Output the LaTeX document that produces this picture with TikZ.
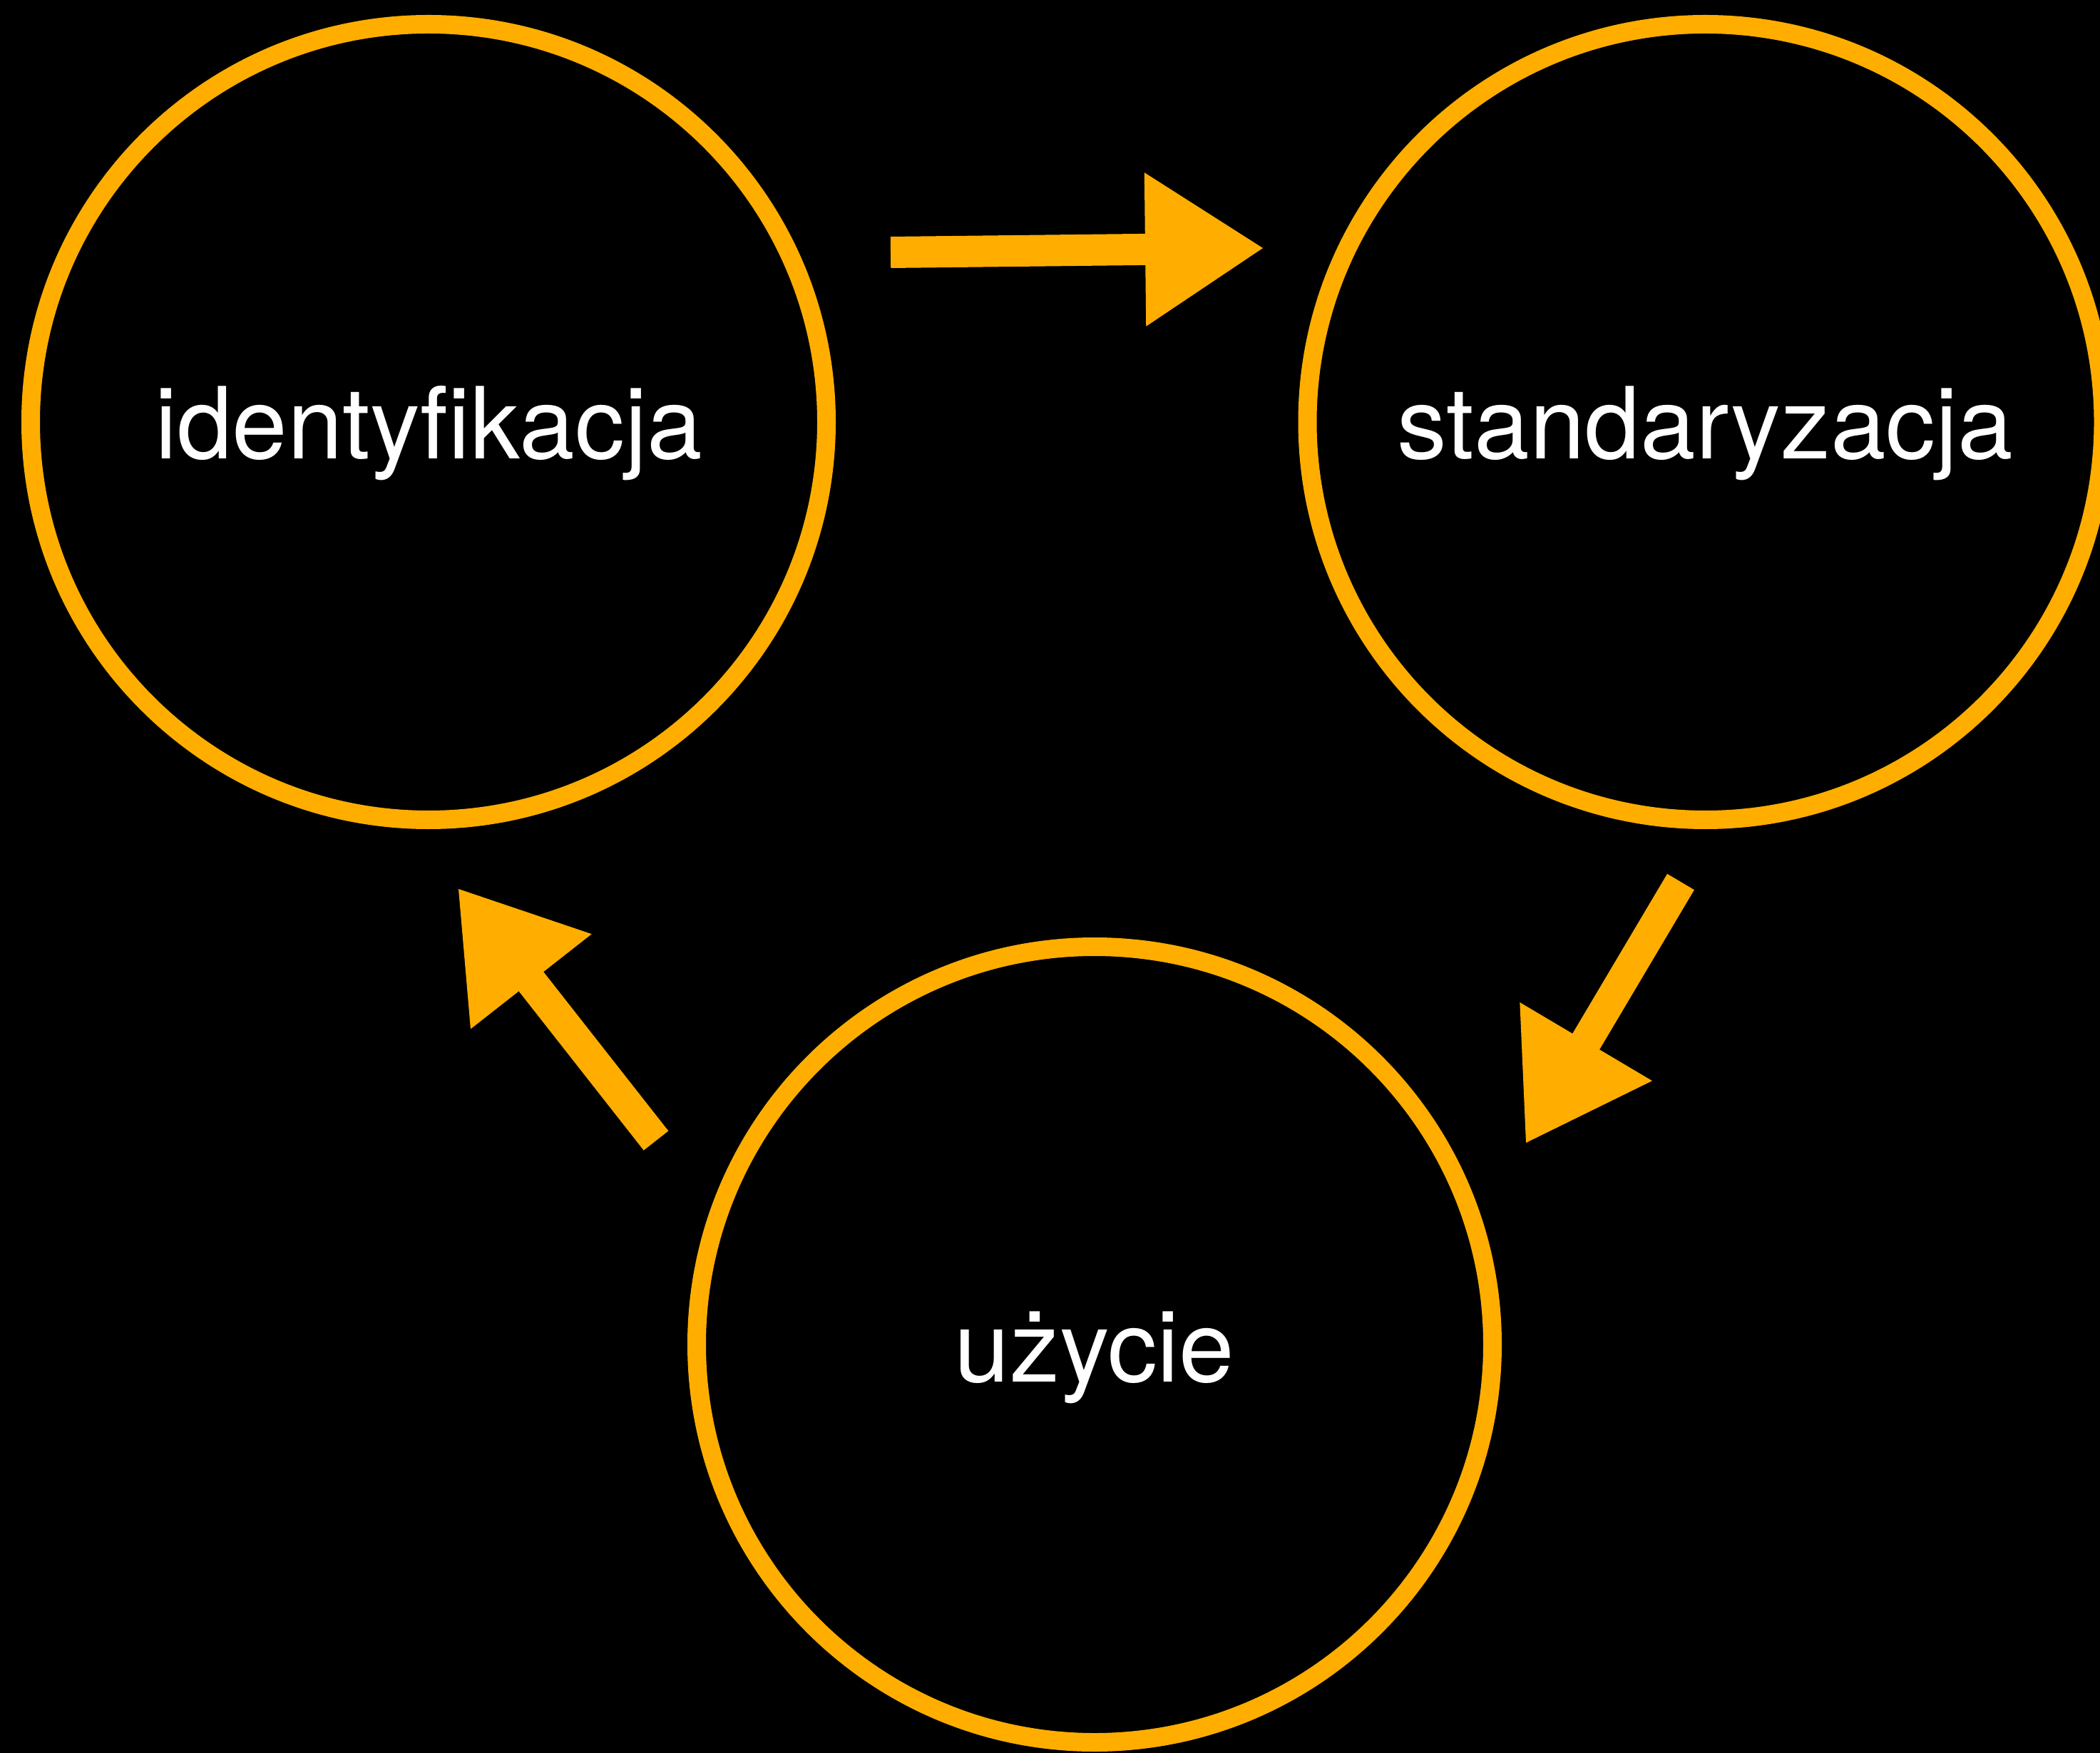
\documentclass[tikz,border=0pt]{standalone}
\usepackage{fontspec}
\setmainfont{TeX Gyre Heros}[Ligatures=NoCommon]
\usetikzlibrary{arrows.meta}
\definecolor{chalk}{RGB}{255,174,0}
\tikzset{
      stage/.style={circle, draw=chalk, line width=0.26cm, minimum size=11.16cm,
            text=white, text height=1.2cm, text depth=0.16cm,
            font=\fontsize{39.7pt}{48pt}\selectfont},
      flow/.style={draw=chalk, line width=0.44cm,
            -{Triangle[length=1.65cm, width=2.15cm, line width=1pt]}},
}
\begin{document}
\begin{tikzpicture}
        % 
        \useasboundingbox (0,0) rectangle (29.45,24.58);
        \fill[black] (-1,-1) rectangle (30.45,25.58);

        % Draw the stages
        \node[stage] (ident) at (6.01,18.66) {identyfikacja};
        \node[stage] (stand) at (23.915,18.66) {standaryzacja};
        \node[stage] (use) at (15.35,5.72) {użycie};

        % Ends of the arrows
        \coordinate (a1) at ([shift={(6.48,2.38)}]ident.center);
        \coordinate (a2) at ([shift={(-6.205,2.44)}]stand.center);
        \coordinate (b1) at ([shift={(-0.345,-6.45)}]stand.center);
        \coordinate (b2) at ([shift={(6.05,2.83)}]use.center);
        \coordinate (c1) at ([shift={(-6.15,2.86)}]use.center);
        \coordinate (c2) at ([shift={(0.42,-6.55)}]ident.center);

        % Draw the arrows
        \draw[flow] (a1) -- (a2);
        \draw[flow] (b1) -- (b2);
        \draw[flow] (c1) -- (c2);

\end{tikzpicture}
\end{document}
